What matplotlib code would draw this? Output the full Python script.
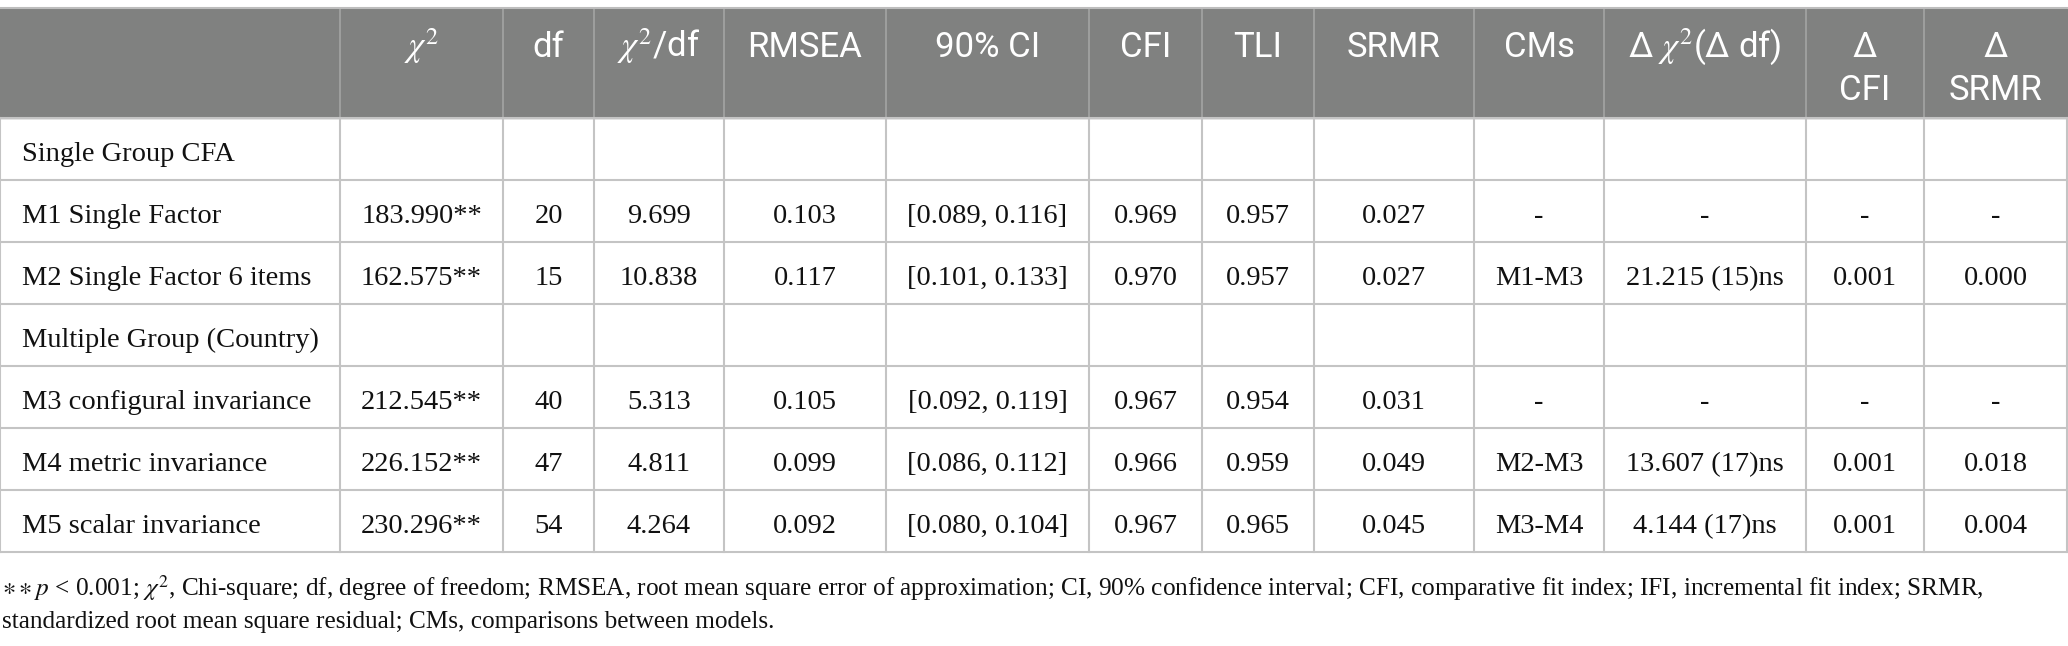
import matplotlib.pyplot as plt
from matplotlib.patches import Rectangle

plt.rcParams['mathtext.fontset'] = 'stix'

# table content
headers = ['', r'$\chi^2$', 'df', r'$\chi^2$/df', 'RMSEA', '90% CI', 'CFI', 'TLI',
           'SRMR', 'CMs', r'Δ $\chi^2$(Δ df)', 'Δ\nCFI', 'Δ\nSRMR']
labels = ['Single Group CFA', 'M1 Single Factor', 'M2 Single Factor 6 items',
          'Multiple Group (Country)', 'M3 configural invariance',
          'M4 metric invariance', 'M5 scalar invariance']
chi2 = ['', '183.990**', '162.575**', '', '212.545**', '226.152**', '230.296**']
df = ['', '20', '15', '', '40', '47', '54']
chi2_df = ['', '9.699', '10.838', '', '5.313', '4.811', '4.264']
rmsea = ['', '0.103', '0.117', '', '0.105', '0.099', '0.092']
ci90 = ['', '[0.089, 0.116]', '[0.101, 0.133]', '', '[0.092, 0.119]',
        '[0.086, 0.112]', '[0.080, 0.104]']
cfi = ['', '0.969', '0.970', '', '0.967', '0.966', '0.967']
tli = ['', '0.957', '0.957', '', '0.954', '0.959', '0.965']
srmr = ['', '0.027', '0.027', '', '0.031', '0.049', '0.045']
cms = ['', '-', 'M1-M3', '', '-', 'M2-M3', 'M3-M4']
d_chi2 = ['', '-', '21.215 (15)ns', '', '-', '13.607 (17)ns', '4.144 (17)ns']
d_cfi = ['', '-', '0.001', '', '-', '0.001', '0.001']
d_srmr = ['', '-', '0.000', '', '-', '0.018', '0.004']
footnote = [r'$\ast\ast p$ < 0.001; $\chi^{2}$, Chi-square; df, degree of freedom; RMSEA, root mean square error of approximation; '
            'CI, 90% confidence interval; CFI, comparative fit index; IFI, incremental fit index; SRMR,',
            'standardized root mean square residual; CMs, comparisons between models.']

columns = [labels, chi2, df, chi2_df, rmsea, ci90, cfi, tli, srmr, cms, d_chi2, d_cfi, d_srmr]

# layout in pixels
W, H = 2068, 646
edges = [0, 340, 503, 594, 724, 886, 1089, 1202, 1314, 1474, 1604, 1806, 1924, 2067]
top, head_bot, row_h = 8, 118, 62
n_rows = len(labels)
bottom = head_bot + n_rows * row_h

fig = plt.figure(figsize=(W / 100, H / 100), dpi=100)
ax = fig.add_axes([0, 0, 1, 1])
ax.set_xlim(0, W)
ax.set_ylim(H, 0)
ax.axis('off')

sans = 'Roboto'
serif = ['Liberation Serif', 'DejaVu Serif']
ink = '#111111'

# header band
ax.add_patch(Rectangle((0, top), W, head_bot - top, color='#808180', zorder=0))
for x in edges[1:-1]:
    ax.plot([x, x], [top, head_bot], color='#a4a4a4', lw=1.2, zorder=1)
ax.plot([0, W], [top, top], color='#bdbdbd', lw=1.5, zorder=2)

for j, h in enumerate(headers):
    cx = (edges[j] + edges[j + 1]) / 2
    for k, line in enumerate(h.split('\n')):
        ax.text(cx, 57 + k * 43, line, ha='center', va='baseline', color='white',
                fontsize=25, family=sans)

# body grid
for i in range(n_rows + 1):
    y = head_bot + i * row_h
    ax.plot([0, W], [y, y], color='#c4c4c4', lw=1.5, zorder=1)
for x in edges:
    ax.plot([x, x], [head_bot, bottom], color='#c4c4c4', lw=1.5, zorder=1)

# body text
for j, col in enumerate(columns):
    for i, val in enumerate(col):
        base = head_bot + i * row_h + 43
        if j == 0:
            ax.text(22, base, val, ha='left', va='baseline', fontsize=20.5, family=serif, color=ink)
        else:
            cx = (edges[j] + edges[j + 1]) / 2
            ax.text(cx, base, val, ha='center', va='baseline', fontsize=20.5, family=serif, color=ink)

for k, line in enumerate(footnote):
    ax.text(2, 596 + k * 32, line, ha='left', va='baseline', fontsize=18.2, family=serif, color=ink)

fig.savefig('out.png', dpi=100)
